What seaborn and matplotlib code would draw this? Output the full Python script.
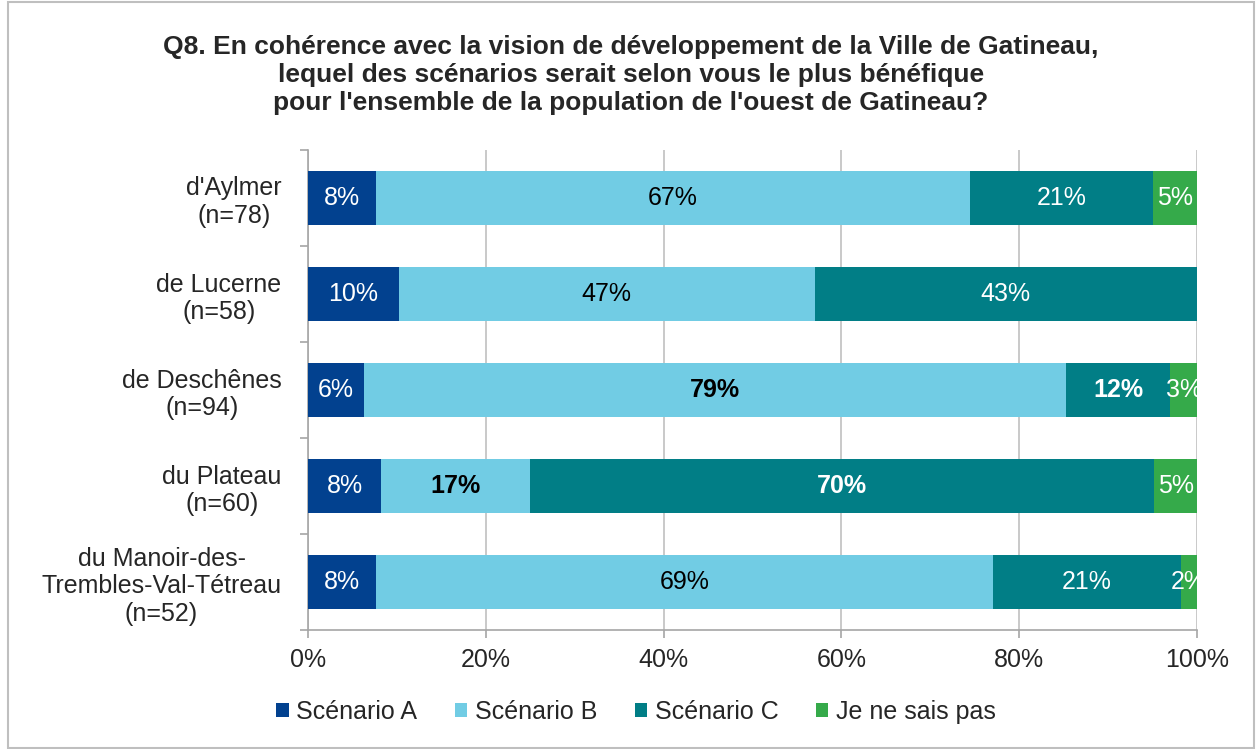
import matplotlib
matplotlib.use("Agg")
import matplotlib.pyplot as plt
from matplotlib.patches import Patch, Rectangle
from matplotlib.ticker import FixedLocator
import seaborn as sns
import pandas as pd
import numpy as np

categories = ["d'Aylmer\n(n=78)", "de Lucerne\n(n=58)", "de Deschênes\n(n=94)",
              "du Plateau\n(n=60)", "du Manoir-des-\nTrembles-Val-Tétreau\n(n=52)"]
series_names = ["Scénario A", "Scénario B", "Scénario C", "Je ne sais pas"]
scenario_a = [7.6, 10.2, 6.3, 8.2, 7.7]
scenario_b = [66.9, 46.8, 79.0, 16.8, 69.3]
scenario_c = [20.6, 43.0, 11.7, 70.2, 21.2]
ne_sais_pas = [4.9, 0.0, 3.0, 4.8, 1.8]
bold_b = [False, False, True, True, False]
bold_c = [False, False, True, True, False]
colors = ["#02418F", "#71CCE4", "#017E86", "#35AA4A"]
label_colors = ["white", "black", "white", "white"]
xticks = [0, 20, 40, 60, 80, 100]
xtick_labels = ["0%", "20%", "40%", "60%", "80%", "100%"]

sns.set_theme(style="white")
plt.rcParams['font.family'] = ['Liberation Sans', 'DejaVu Sans']

series = [scenario_a, scenario_b, scenario_c, ne_sais_pas]
df = pd.DataFrame({"cat": categories})
for name, vals in zip(series_names, series):
    df[name] = vals
cum = df[series_names].cumsum(axis=1)
for name in series_names:
    df["cum_" + name] = cum[name]

fig = plt.figure(figsize=(12.57, 7.49), dpi=100)
ax = fig.add_axes([308/1257, 1-630/749, (1197-308)/1257, (630-150)/749])

for i in reversed(range(4)):
    sns.barplot(data=df, x="cum_" + series_names[i], y="cat", color=colors[i],
                saturation=1, width=0.56, orient="h", ax=ax, edgecolor="none",
                linewidth=0, zorder=3)

fs = 18
bolds = [[False]*5, bold_b, bold_c, [False]*5]
for i in range(4):
    starts = df["cum_" + series_names[i]] - df[series_names[i]]
    for j, v in enumerate(series[i]):
        if v <= 0:
            continue
        ax.text(starts[j] + v/2, j, f"{v:.0f}%", ha="center", va="center",
                color=label_colors[i], fontsize=fs,
                fontweight="bold" if bolds[i][j] else "normal", zorder=5)

ax.set_xlim(0, 100)
ax.set_ylim(4.5, -0.5)
ax.set_xticks(xticks)
ax.set_xticklabels(xtick_labels, fontsize=fs)
ax.set_xlabel("")
ax.set_ylabel("")
ax.grid(axis="x", color="#C0C0C0", linewidth=1.2, zorder=0)
ax.set_axisbelow(True)
for s in ["top", "right"]:
    ax.spines[s].set_visible(False)
for s in ["left", "bottom"]:
    ax.spines[s].set_color("#A6A6A6")
    ax.spines[s].set_linewidth(1.2)
ax.tick_params(axis="x", length=6, color="#A6A6A6", width=1.2, pad=7, bottom=True)
ax.set_yticks(range(5))
ax.set_yticklabels(categories, fontsize=fs)
ax.yaxis.set_minor_locator(FixedLocator(np.arange(-0.5, 5, 1)))
ax.tick_params(axis="y", which="major", length=0, pad=19)
ax.tick_params(axis="y", which="minor", length=6, color="#A6A6A6", width=1.2, left=True)
for t in ax.get_yticklabels():
    t.set_multialignment("center")
    t.set_linespacing(1.18)

fig.text(0.502, 1-35/749,
         "Q8. En cohérence avec la vision de développement de la Ville de Gatineau,\n"
         "lequel des scénarios serait selon vous le plus bénéfique\n"
         "pour l'ensemble de la population de l'ouest de Gatineau?",
         ha="center", va="top", fontsize=19, fontweight="bold", linespacing=1.2)

handles = [Patch(facecolor=c, edgecolor="none") for c in colors]
fig.legend(handles, series_names, loc="center", bbox_to_anchor=(0.506, 1-712/749),
           ncol=4, frameon=False, fontsize=fs, handlelength=0.5, handleheight=0.5,
           handletextpad=0.3, columnspacing=1.5)

fig.patches.append(Rectangle((8/1257, 1/749), 1246/1257, 746/749, transform=fig.transFigure,
                             fill=False, edgecolor="#BFBFBF", linewidth=1.5))

fig.savefig("out.png", dpi=100)
